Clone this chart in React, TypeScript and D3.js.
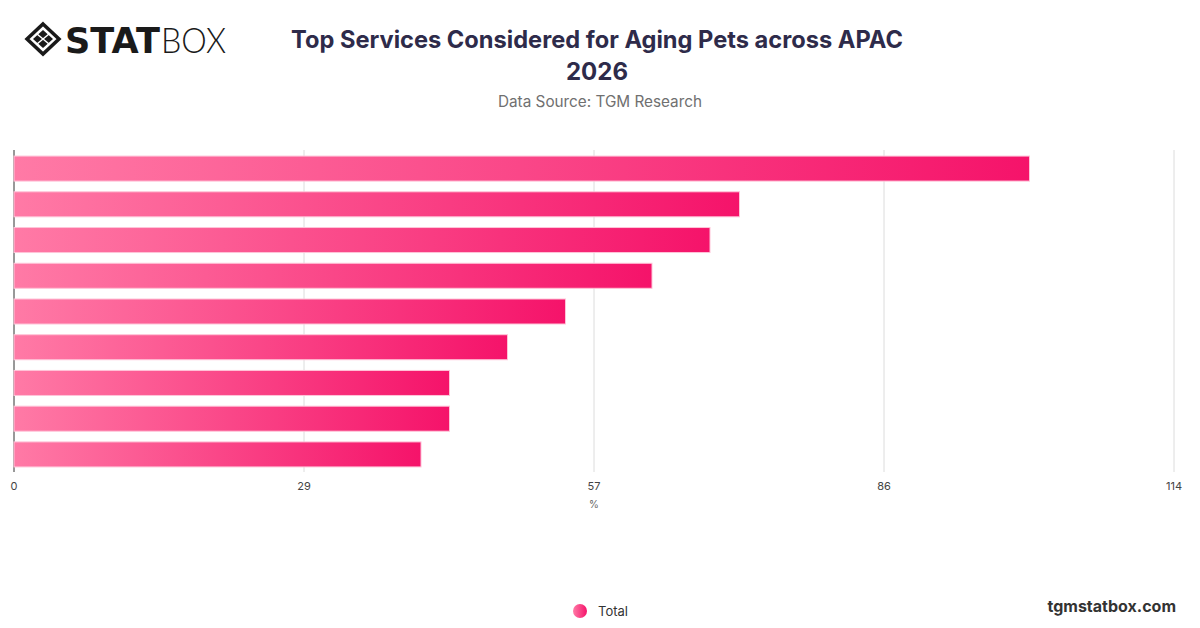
import React from 'react';
import * as d3 from 'd3';

const categories = ['S1', 'S2', 'S3', 'S4', 'S5', 'S6', 'S7', 'S8', 'S9'];
const totalValues = [99.8, 71.3, 68.4, 62.7, 54.2, 48.5, 42.8, 42.8, 40];
const tickValues = [0, 28.5, 57, 85.5, 114];
const tickLabels = ['0', '29', '57', '86', '114'];

const W = 1200;
const H = 628;

export default function App() {
  const x = d3.scaleLinear().domain([0, 114]).range([14, 1174]);
  const y = d3
    .scaleBand<string>()
    .domain(categories)
    .range([150, 473])
    .paddingInner(0.3)
    .paddingOuter(0.17);

  const font = 'Inter, "Noto Sans", Roboto, sans-serif';

  return (
    <svg width={W} height={H} viewBox={`0 0 ${W} ${H}`} style={{ position: 'absolute', left: 0, top: 0, background: '#fff' }}>
      <defs>
        <linearGradient id="barGrad" x1="0" x2="1" y1="0" y2="0">
          <stop offset="0%" stopColor="#ff7aa6" />
          <stop offset="100%" stopColor="#f5136a" />
        </linearGradient>
        <linearGradient id="dotGrad" x1="0" x2="1" y1="0" y2="0">
          <stop offset="0%" stopColor="#ff7aa6" />
          <stop offset="100%" stopColor="#f5136a" />
        </linearGradient>
      </defs>
      <rect width={W} height={H} fill="#fff" />

      {/* logo */}
      <g transform="translate(43,39)">
        <path d="M0,-15 L16,0 L0,15 L-16,0 Z" fill="none" stroke="#1a1a1a" strokeWidth={3.5} />
        <path d="M0,-9 L10,0 L0,9 L-10,0 Z" fill="#1a1a1a" />
        <line x1={-6} y1={-5} x2={6} y2={5} stroke="#fff" strokeWidth={1.5} />
        <line x1={-6} y1={5} x2={6} y2={-5} stroke="#fff" strokeWidth={1.5} />
      </g>
      <text x={65} y={53} fontFamily='"DejaVu Sans", sans-serif' fontWeight={900} fontSize={35} fill="#1a1a1a" textLength={95} lengthAdjust="spacingAndGlyphs">STAT</text>
      <text x={161} y={53} fontFamily='Lato, "Noto Sans", sans-serif' fontWeight={300} fontSize={36} fill="#1a1a1a" textLength={65} lengthAdjust="spacingAndGlyphs">BOX</text>

      {/* titles */}
      <text x={597} y={48} textAnchor="middle" fontFamily={font} fontWeight={700} fontSize={24} fill="#2e2b4a" textLength={612} lengthAdjust="spacingAndGlyphs">
        Top Services Considered for Aging Pets across APAC
      </text>
      <text x={597} y={80} textAnchor="middle" fontFamily={font} fontWeight={700} fontSize={24} fill="#2e2b4a">2026</text>
      <text x={600} y={107} textAnchor="middle" fontFamily={font} fontSize={15.3} fill="#707070">Data Source: TGM Research</text>

      {/* grid */}
      {tickValues.map((t) => (
        <line key={`g${t}`} x1={x(t)} x2={x(t)} y1={150} y2={472} stroke={t === 0 ? '#333' : '#dcdcdc'} strokeWidth={1} />
      ))}

      {/* bars */}
      {categories.map((c, i) => (
        <rect
          key={c}
          x={x(0)}
          y={y(c)}
          width={x(totalValues[i]) - x(0)}
          height={y.bandwidth()}
          fill="url(#barGrad)"
          stroke="#ffc4d8"
          strokeWidth={1}
        />
      ))}

      {/* x axis labels */}
      {tickValues.map((t, i) => (
        <text key={`t${t}`} x={x(t)} y={490} textAnchor="middle" fontFamily={font} fontSize={11} fill="#444">
          {tickLabels[i]}
        </text>
      ))}
      <text x={594} y={508} textAnchor="middle" fontFamily={font} fontSize={10} fill="#666">%</text>

      {/* legend */}
      <circle cx={580} cy={611} r={7} fill="url(#dotGrad)" />
      <text x={598} y={616} fontFamily={font} fontSize={13} fill="#333">Total</text>

      <text x={1176} y={612} textAnchor="end" fontFamily={font} fontWeight={700} fontSize={16} fill="#333">tgmstatbox.com</text>
    </svg>
  );
}
